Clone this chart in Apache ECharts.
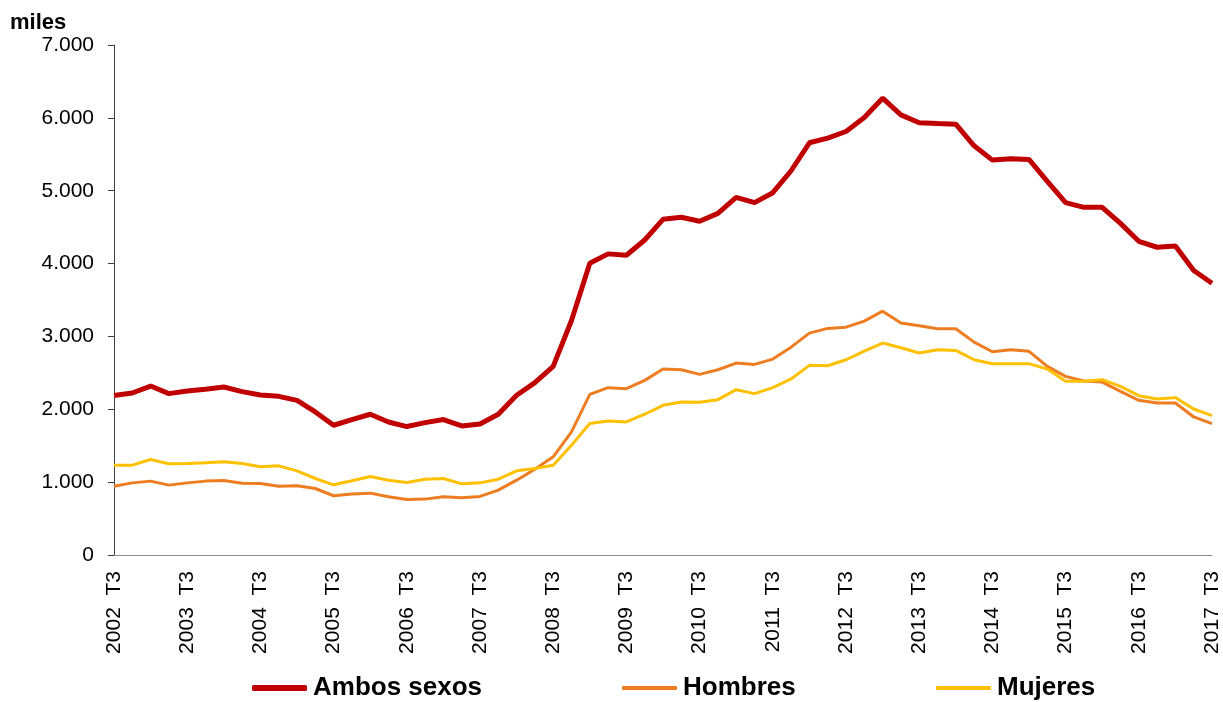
<!DOCTYPE html>
<html>
<head>
<meta charset="utf-8">
<script src="https://cdn.jsdelivr.net/npm/echarts@6/dist/echarts.min.js"></script>
<style>
  html, body { margin: 0; padding: 0; background: #fff; }
  #chart { width: 1223px; height: 702px; }
</style>
</head>
<body>
<div id="chart"></div>
<script>
  // trimestres, 2002 T3 - 2017 T3
  var categories = [
    '2002  T3', '2002  T4', '2003  T1', '2003  T2',
    '2003  T3', '2003  T4', '2004  T1', '2004  T2',
    '2004  T3', '2004  T4', '2005  T1', '2005  T2',
    '2005  T3', '2005  T4', '2006  T1', '2006  T2',
    '2006  T3', '2006  T4', '2007  T1', '2007  T2',
    '2007  T3', '2007  T4', '2008  T1', '2008  T2',
    '2008  T3', '2008  T4', '2009  T1', '2009  T2',
    '2009  T3', '2009  T4', '2010  T1', '2010  T2',
    '2010  T3', '2010  T4', '2011  T1', '2011  T2',
    '2011  T3', '2011  T4', '2012  T1', '2012  T2',
    '2012  T3', '2012  T4', '2013  T1', '2013  T2',
    '2013  T3', '2013  T4', '2014  T1', '2014  T2',
    '2014  T3', '2014  T4', '2015  T1', '2015  T2',
    '2015  T3', '2015  T4', '2016  T1', '2016  T2',
    '2016  T3', '2016  T4', '2017  T1', '2017  T2',
    '2017  T3'
  ]

  // miles de personas
  var ambosSexos = [
    2190, 2223, 2319, 2215, 2251, 2274, 2306, 2242, 2196, 2178,
    2123, 1963, 1781, 1859, 1932, 1826, 1763, 1817, 1859, 1772,
    1799, 1932, 2192, 2366, 2589, 3219, 4004, 4133, 4114, 4324,
    4607, 4635, 4580, 4689, 4909, 4836, 4973, 5274, 5658, 5722,
    5813, 6004, 6270, 6041, 5932, 5922, 5913, 5616, 5420, 5438,
    5429, 5128, 4836, 4772, 4772, 4552, 4306, 4224, 4242, 3904,
    3730
  ]
  var hombres = [
    945, 990, 1014, 959, 990, 1014, 1023, 986, 982, 945,
    950, 913, 813, 836, 849, 799, 763, 767, 799, 785,
    804, 890, 1027, 1178, 1347, 1689, 2205, 2297, 2283, 2397,
    2552, 2543, 2479, 2543, 2634, 2616, 2689, 2853, 3045, 3110,
    3127, 3210, 3347, 3183, 3146, 3105, 3105, 2922, 2790, 2818,
    2795, 2589, 2452, 2388, 2374, 2247, 2123, 2087, 2087, 1895,
    1804
  ]
  var mujeres = [
    1233, 1233, 1311, 1251, 1256, 1265, 1279, 1256, 1210, 1224,
    1155, 1050, 963, 1018, 1078, 1027, 996, 1041, 1050, 977,
    990, 1041, 1155, 1187, 1233, 1507, 1804, 1840, 1826, 1932,
    2055, 2100, 2096, 2132, 2269, 2215, 2297, 2416, 2603, 2598,
    2680, 2799, 2909, 2845, 2772, 2818, 2808, 2680, 2626, 2626,
    2626, 2552, 2384, 2384, 2406, 2315, 2187, 2141, 2160, 2004,
    1913
  ]

  var fontFamily = 'Liberation Sans, Arial, sans-serif'

  // una leyenda por serie, para poder dar a cada línea su grosor
  function legendItem (name, left, thick) {
    return {
      left: left,
      top: 675,
      padding: 0,
      itemGap: 0,
      itemWidth: 55,
      itemHeight: thick,
      icon: 'roundRect',
      textStyle: {
        fontSize: 26,
        fontWeight: 'bold',
        color: '#000',
        fontFamily: fontFamily,
        padding: [0, 0, 0, 1]
      },
      data: [name]
    }
  }

  var chart = echarts.init(document.getElementById('chart'))
  chart.setOption({
    animation: false,
    backgroundColor: '#fff',
    textStyle: { fontFamily: fontFamily },
    grid: {
      left: 114,
      right: 11,
      top: 45,
      bottom: 147
    },
    legend: [
      legendItem('Ambos sexos', 252, 6),
      legendItem('Hombres', 622, 4),
      legendItem('Mujeres', 936, 4)
    ],
    graphic: [{
      type: 'text',
      left: 10,
      top: 12,
      style: {
        text: 'miles',
        font: 'bold 22px ' + fontFamily,
        fill: '#000'
      }
    }],
    xAxis: {
      type: 'category',
      boundaryGap: false,
      data: categories,
      axisLine: { lineStyle: { color: '#8c8c8c', width: 1 } },
      axisTick: { show: false },
      axisLabel: {
        interval: 3,
        rotate: 90,
        margin: 16,
        fontSize: 21,
        color: '#000'
      },
      splitLine: { show: false }
    },
    yAxis: {
      type: 'value',
      min: 0,
      max: 7000,
      interval: 1000,
      axisLine: { show: true, lineStyle: { color: '#404040', width: 1 } },
      axisTick: { show: true, length: 6, lineStyle: { color: '#404040' } },
      axisLabel: {
        margin: 20,
        fontSize: 21,
        color: '#000',
        formatter: function (v) {
          return String(v).replace(/\B(?=(\d{3})+(?!\d))/g, '.')
        }
      },
      splitLine: { show: false }
    },
    series: [{
      name: 'Ambos sexos',
      type: 'line',
      data: ambosSexos,
      symbol: 'none',
      color: '#C00000',
      lineStyle: { color: '#C00000', width: 5 }
    }, {
      name: 'Hombres',
      type: 'line',
      data: hombres,
      symbol: 'none',
      color: '#EE7D22',
      lineStyle: { color: '#EE7D22', width: 3 }
    }, {
      name: 'Mujeres',
      type: 'line',
      data: mujeres,
      symbol: 'none',
      color: '#FFC000',
      lineStyle: { color: '#FFC000', width: 3 }
    }]
  })
</script>
</body>
</html>
